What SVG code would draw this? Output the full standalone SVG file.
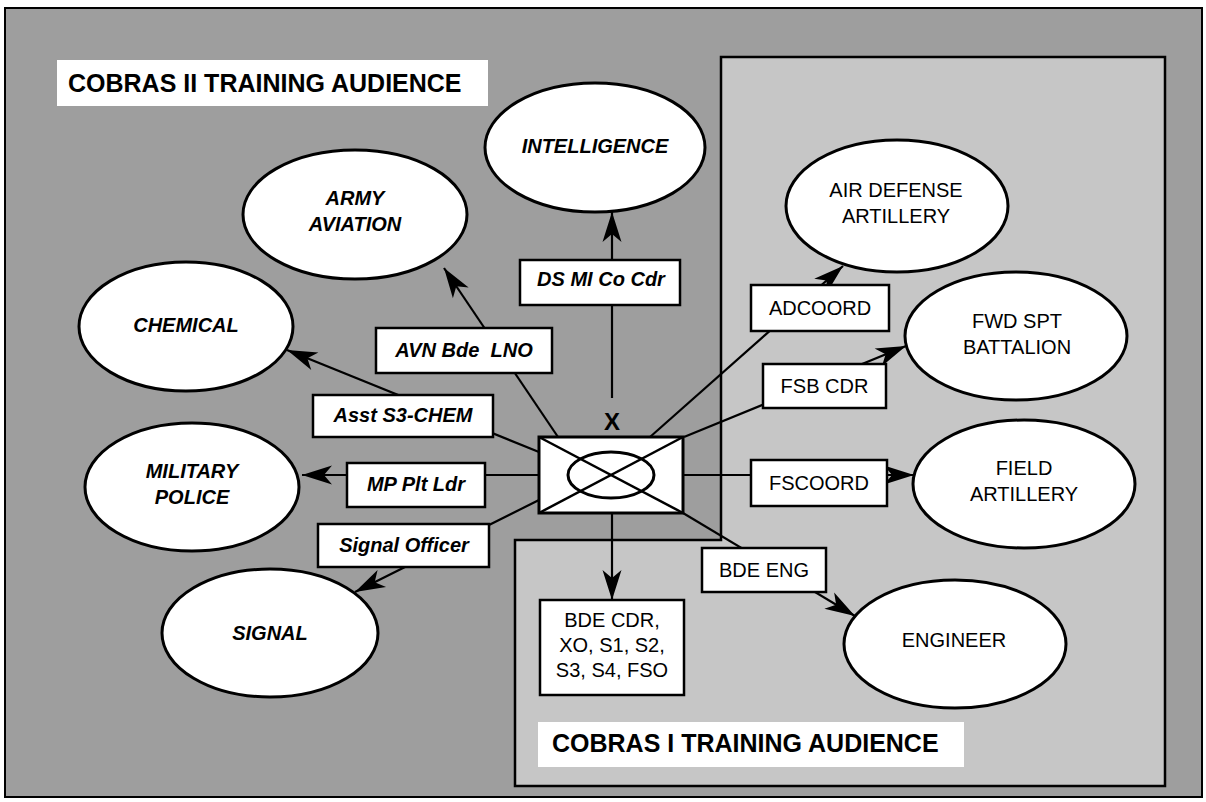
<svg xmlns="http://www.w3.org/2000/svg" width="1206" height="802" viewBox="0 0 1206 802">
<defs>
<style>
text{font-family:"Liberation Sans",Arial,sans-serif;font-size:20px;text-anchor:middle;fill:#000}
.bi{font-weight:bold;font-style:italic}
.title{font-weight:bold;font-size:25px;text-anchor:start}
.x{font-weight:bold;font-size:24px}
.node ellipse{fill:#fff;stroke:#000;stroke-width:3}
.lbl rect{fill:#fff;stroke:#000;stroke-width:2.5}
.conn line{stroke:#000;stroke-width:2.2;fill:none;marker-end:url(#ah)}
.conn line.plain{marker-end:none}
</style>
<marker id="ah" markerUnits="userSpaceOnUse" markerWidth="34" markerHeight="22" viewBox="-32 -11 34 22" refX="0" refY="0" orient="auto">
<path d="M0,0 L-30,-9.5 L-22,0 L-30,9.5 Z" fill="#000"/>
</marker>
</defs>
<rect x="0" y="0" width="1206" height="802" fill="#ffffff"/>
<rect id="frame" x="5" y="8" width="1197" height="789" fill="#9e9e9e" stroke="#000" stroke-width="2"/>
<path id="cobras1-region" d="M721,57 L1165,57 L1165,786 L515,786 L515,540 L721,540 Z" fill="#c6c6c6" stroke="#000" stroke-width="2.5"/>
<g id="title2"><rect x="57" y="60" width="431" height="46" fill="#fff"/><text class="title" x="68" y="92">COBRAS II TRAINING AUDIENCE</text></g>
<g id="title1"><rect x="538" y="722" width="426" height="45" fill="#fff"/><text class="title" x="552" y="752">COBRAS I TRAINING AUDIENCE</text></g>
<g id="connectors" class="conn">
<line x1="612" y1="398" x2="612" y2="212"/>
<line x1="558" y1="437" x2="444" y2="268"/>
<line x1="539" y1="452" x2="287" y2="350"/>
<line x1="539" y1="475" x2="302" y2="475"/>
<line x1="539" y1="500" x2="355" y2="592"/>
<line x1="612" y1="513" x2="612" y2="600"/>
<line x1="650" y1="437" x2="843" y2="266"/>
<line x1="684" y1="437" x2="906" y2="346"/>
<line x1="683" y1="475" x2="914" y2="475"/>
<line x1="683" y1="513" x2="855" y2="616"/>
</g>
<g id="intelligence" class="node"><ellipse cx="595" cy="147.5" rx="110" ry="64.5"/><text class="bi" x="595" y="153">INTELLIGENCE</text></g>
<g id="army-aviation" class="node"><ellipse cx="355" cy="214.5" rx="112" ry="64.5"/><text class="bi" x="355" y="205">ARMY</text><text class="bi" x="355" y="231">AVIATION</text></g>
<g id="chemical" class="node"><ellipse cx="186" cy="326.5" rx="107" ry="64.5"/><text class="bi" x="186" y="332">CHEMICAL</text></g>
<g id="military-police" class="node"><ellipse cx="192" cy="487" rx="107" ry="64"/><text class="bi" x="192" y="478">MILITARY</text><text class="bi" x="192" y="504">POLICE</text></g>
<g id="signal" class="node"><ellipse cx="270" cy="633" rx="108" ry="64"/><text class="bi" x="270" y="640">SIGNAL</text></g>
<g id="air-defense" class="node"><ellipse cx="897" cy="206" rx="111" ry="66"/><text x="896" y="197">AIR DEFENSE</text><text x="896" y="223">ARTILLERY</text></g>
<g id="fwd-spt" class="node"><ellipse cx="1016" cy="336" rx="111" ry="64"/><text x="1017" y="328">FWD SPT</text><text x="1017" y="354">BATTALION</text></g>
<g id="field-artillery" class="node"><ellipse cx="1024" cy="484" rx="111" ry="64"/><text x="1024" y="475">FIELD</text><text x="1024" y="501">ARTILLERY</text></g>
<g id="engineer" class="node"><ellipse cx="955" cy="644" rx="111" ry="64"/><text x="954" y="647">ENGINEER</text></g>
<g id="lbl-dsmi" class="lbl"><rect x="520" y="260" width="160" height="45"/><text class="bi" x="601" y="286">DS MI Co Cdr</text></g>
<g id="lbl-avn" class="lbl"><rect x="376" y="328" width="176" height="45"/><text class="bi" x="464" y="357">AVN Bde&#160; LNO</text></g>
<g id="lbl-chem" class="lbl"><rect x="313" y="395" width="180" height="42"/><text class="bi" x="403" y="422">Asst S3-CHEM</text></g>
<g id="lbl-mp" class="lbl"><rect x="347" y="463" width="138" height="44"/><text class="bi" x="416" y="491">MP Plt Ldr</text></g>
<g id="lbl-sig" class="lbl"><rect x="318" y="524" width="171" height="43"/><text class="bi" x="404" y="552">Signal Officer</text></g>
<g id="lbl-adcoord" class="lbl"><rect x="751" y="285" width="138" height="46"/><text x="820" y="315">ADCOORD</text></g>
<g id="lbl-fsb" class="lbl"><rect x="763" y="364" width="123" height="44"/><text x="824.5" y="393">FSB CDR</text></g>
<g id="lbl-fscoord" class="lbl"><rect x="751" y="460" width="136" height="46"/><text x="819" y="490">FSCOORD</text></g>
<g id="lbl-bdeeng" class="lbl"><rect x="702" y="548" width="124" height="44"/><text x="764" y="577">BDE ENG</text></g>
<g id="lbl-bdecdr" class="lbl"><rect x="540" y="600" width="144" height="95"/><text x="612" y="627">BDE CDR,</text><text x="612" y="652">XO, S1, S2,</text><text x="612" y="677">S3, S4, FSO</text></g>
<g id="brigade-hq">
<rect x="539" y="437" width="144" height="76" fill="#fff" stroke="#000" stroke-width="3"/>
<line x1="539" y1="437" x2="683" y2="513" stroke="#000" stroke-width="2.5"/>
<line x1="539" y1="513" x2="683" y2="437" stroke="#000" stroke-width="2.5"/>
<ellipse cx="611" cy="475" rx="43" ry="23" fill="none" stroke="#000" stroke-width="3"/>
<text class="x" x="612" y="430">X</text>
</g>
</svg>
